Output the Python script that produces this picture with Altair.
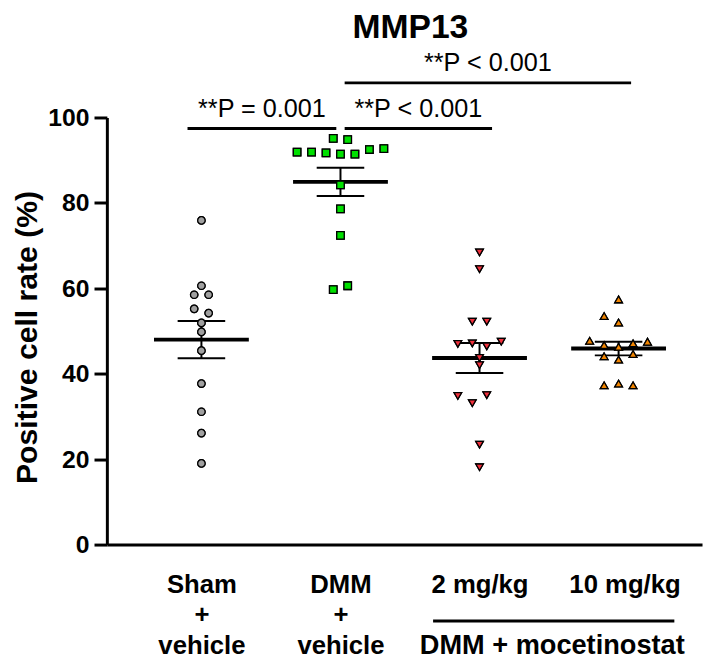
import json
import altair as alt
import pandas as pd

# ---------------- data ----------------
groups = ["Sham + vehicle", "DMM + vehicle", "DMM + mocetinostat 2 mg/kg", "DMM + mocetinostat 10 mg/kg"]
group_pos = [1, 2, 3, 4]
group_label_lines = [["Sham", "+", "vehicle"], ["DMM", "+", "vehicle"], ["2 mg/kg"], ["10 mg/kg"]]
fill_colors = ["#a0a0a0", "#00e000", "#f0303c", "#f28500"]
shapes = ["circle", "square", "triangle-down", "triangle-up"]
sizes = [56, 60, 100, 100]

sham_values = [75.9, 60.6, 58.5, 58.5, 55.2, 54.2, 51.9, 49.8, 45.4, 37.7, 31.1, 26.1, 19.0]
sham_cols = [0, 0, -1, 1, -1, 1, 0, 0, 0, 0, 0, 0, 0]
dmm_values = [95.1, 94.8, 91.9, 91.9, 91.7, 91.4, 91.4, 92.5, 92.7, 84.2, 78.6, 72.4, 60.6, 59.7]
dmm_cols = [-1, 1, -6, -4, -2, 0, 2, 4, 6, 0, 0, 0, 1, -1]
mg2_values = [68.4, 64.5, 52.2, 52.2, 47.0, 47.1, 46.4, 47.5, 43.7, 42.0, 34.8, 33.1, 35.0, 23.4, 18.1]
mg2_cols = [0, 0, -1, 1, -3, -1, 1, 3, 0, 0, -3, -1, 1, 0, 0]
mg10_values = [57.4, 53.5, 52.0, 47.7, 47.5, 46.7, 47.1, 46.3, 44.1, 44.6, 43.3, 37.3, 37.7, 37.3]
mg10_cols = [0, -2, 0, -4, 4, -2, 2, 0, -2, 2, 0, -2, 0, 2]

bracket_labels = ["**P = 0.001", "**P < 0.001", "**P < 0.001"]
bracket_start = [0.90, 2.03, 2.03]
bracket_end = [1.97, 3.09, 4.09]
bracket_level = [97.4, 97.4, 108.1]

treat_title = "DMM + mocetinostat"
treat_start = [2.666]
treat_end = [4.401]
treat_level = [-17.9]

y_ticks = [0, 20, 40, 60, 80, 100]

# ---------------- build tables ----------------
rows = []
for g, p, vals, cols in zip(groups, group_pos,
                            [sham_values, dmm_values, mg2_values, mg10_values],
                            [sham_cols, dmm_cols, mg2_cols, mg10_cols]):
    for v, c in zip(vals, cols):
        rows.append({"group": g, "pos": p, "value": v, "col": c})
df = pd.DataFrame(rows)

br_df = pd.DataFrame({"start": bracket_start, "end": bracket_end,
                      "level": bracket_level, "label": bracket_labels})
treat_df = pd.DataFrame({"start": treat_start, "end": treat_end, "level": treat_level})

FONT = "Liberation Sans"
STEP = 0.052       # beeswarm column spacing (x units)
MEAN_HALF = 0.341  # half width of mean line
CAP_HALF = 0.171   # half width of SEM caps

x_scale = alt.Scale(domain=[0.32, 4.6], nice=False, zero=False)
y_scale = alt.Scale(domain=[0, 100], nice=False, zero=False)

parts = [f"datum.value == {p} ? {json.dumps(lines)}" for p, lines in zip(group_pos, group_label_lines)]
label_expr = " : ".join(parts) + " : ''"

x_axis = alt.Axis(
    values=group_pos, labelExpr=label_expr, ticks=False, tickSize=0, grid=False,
    domainColor="black", domainWidth=3,
    labelFont=FONT, labelFontSize=26, labelFontWeight="bold", labelColor="black",
    labelPadding=27, labelLineHeight=31, labelBaseline="top",
    labelOffset={"condition": {"test": "datum.value == 4", "value": 6}, "value": 0},
    title=treat_title, titleFont=FONT, titleFontSize=27.5, titleFontWeight="bold",
    titleColor="black", titleX=450, titleY=110, titleBaseline="alphabetic", titleAlign="center",
)
y_axis = alt.Axis(
    values=y_ticks, grid=False, domainColor="black", domainWidth=3,
    tickColor="black", tickWidth=3, tickSize=13,
    labelFont=FONT, labelFontSize=25, labelFontWeight="bold", labelColor="black", labelPadding=5,
    title="Positive cell rate (%)", titleFont=FONT, titleFontSize=30.5, titleFontWeight="bold",
    titleColor="black", titleX=-71, titleY=222, titleBaseline="alphabetic", titleAlign="center",
    titleAngle=270,
)

point_enc = dict(
    fill=alt.Fill("group:N", scale=alt.Scale(domain=groups, range=fill_colors), legend=None),
    shape=alt.Shape("group:N", scale=alt.Scale(domain=groups, range=shapes), legend=None),
    size=alt.Size("group:N", scale=alt.Scale(domain=groups, range=sizes), legend=None),
)

pts_base = alt.Chart(df).transform_calculate(
    xj=f"datum.pos + datum.col * {STEP}"
).mark_point(filled=True, stroke="black", strokeWidth=1.3, opacity=1)

# first layer carries the axes
points_axes = pts_base.encode(
    x=alt.X("xj:Q", scale=x_scale, axis=x_axis),
    y=alt.Y("value:Q", scale=y_scale, axis=y_axis),
    **point_enc,
)
# redrawn on top of the mean/SEM lines
points_top = pts_base.encode(
    x=alt.X("xj:Q", scale=x_scale),
    y=alt.Y("value:Q", scale=y_scale),
    **point_enc,
)

summary = alt.Chart(df).transform_aggregate(
    mean="mean(value)", sem="stderr(value)", groupby=["group", "pos"]
).transform_calculate(
    lo="datum.mean - datum.sem", hi="datum.mean + datum.sem",
    ml=f"datum.pos - {MEAN_HALF}", mr=f"datum.pos + {MEAN_HALF}",
    cl=f"datum.pos - {CAP_HALF}", cr=f"datum.pos + {CAP_HALF}",
)

mean_rule = summary.mark_rule(color="black", strokeWidth=4).encode(
    x=alt.X("ml:Q", scale=x_scale), x2="mr:Q",
    y=alt.Y("mean:Q", scale=y_scale))
sem_rule = summary.mark_rule(color="black", strokeWidth=2).encode(
    x=alt.X("pos:Q", scale=x_scale),
    y=alt.Y("lo:Q", scale=y_scale), y2="hi:Q")
cap_lo = summary.mark_rule(color="black", strokeWidth=2).encode(
    x=alt.X("cl:Q", scale=x_scale), x2="cr:Q",
    y=alt.Y("lo:Q", scale=y_scale))
cap_hi = summary.mark_rule(color="black", strokeWidth=2).encode(
    x=alt.X("cl:Q", scale=x_scale), x2="cr:Q",
    y=alt.Y("hi:Q", scale=y_scale))

br_rule = alt.Chart(br_df).mark_rule(color="black", strokeWidth=3).encode(
    x=alt.X("start:Q", scale=x_scale), x2="end:Q",
    y=alt.Y("level:Q", scale=y_scale))
br_text = alt.Chart(br_df).transform_calculate(
    mid="(datum.start + datum.end) / 2"
).mark_text(font=FONT, fontSize=25.5, color="black", baseline="alphabetic", dy=-12).encode(
    x=alt.X("mid:Q", scale=x_scale),
    y=alt.Y("level:Q", scale=y_scale),
    text="label:N")

treat_rule = alt.Chart(treat_df).mark_rule(color="black", strokeWidth=3).encode(
    x=alt.X("start:Q", scale=x_scale), x2="end:Q",
    y=alt.Y("level:Q", scale=y_scale))

chart = alt.layer(
    points_axes, mean_rule, sem_rule, cap_lo, cap_hi, points_top, br_rule, br_text, treat_rule
).properties(
    width=602, height=432,
    padding={"left": 100, "top": 107, "right": 2, "bottom": 112},
    autosize=alt.AutoSizeParams(type="none"),
    title=alt.Title("MMP13", font=FONT, fontSize=34, fontWeight="bold", color="black",
                    anchor="middle", frame="group", offset=-21, dx=6, baseline="alphabetic"),
).configure(font=FONT).configure_view(stroke=None)

chart.save("out.html", embed_options={"renderer": "svg", "actions": False})
